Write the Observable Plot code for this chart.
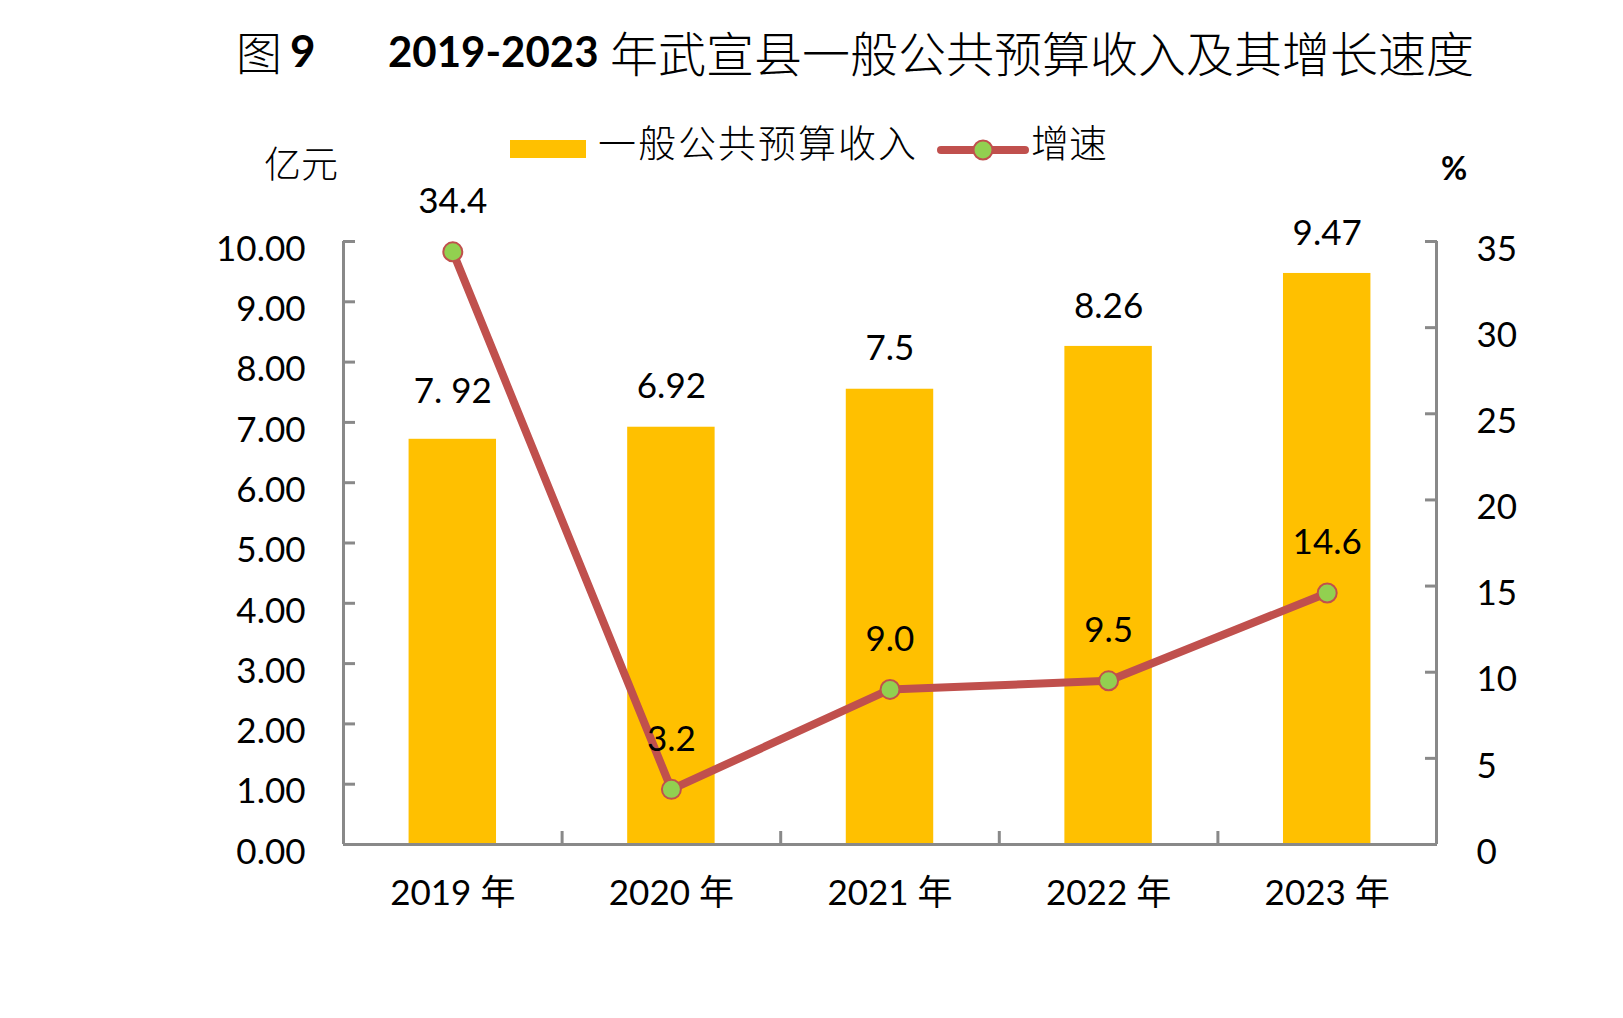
<!DOCTYPE html>
<html><head><meta charset="utf-8">
<script src="https://cdn.jsdelivr.net/npm/d3@7"></script>
<script src="https://cdn.jsdelivr.net/npm/@observablehq/plot@0.6"></script>
<style>
html,body{margin:0;padding:0;background:#fff;}
#wrap{position:relative;width:1623px;height:1018px;overflow:hidden;font-family:Lato,"Noto Sans CJK SC",sans-serif;color:#000;}
.abs{position:absolute;white-space:nowrap;line-height:1;}
.cjk{font-family:"Noto Sans CJK SC",sans-serif;font-weight:300;}
#chart{position:absolute;left:0;top:0;}
</style></head><body><div id="wrap">
<div class="abs cjk" style="left:236px;top:27px;font-size:46px;">图</div>
<div class="abs" style="left:290px;top:28px;font-size:44px;font-weight:700;">9</div>
<div class="abs" style="left:388px;top:30px;font-size:42px;font-weight:700;">2019-2023</div>
<div class="abs cjk" style="left:610px;top:27px;font-size:48px;">年武宣县一般公共预算收入及其增长速度</div>
<div class="abs" style="left:510px;top:140px;width:76px;height:18px;background:#FFC000;"></div>
<div class="abs cjk" style="left:598px;top:122px;font-size:38px;letter-spacing:2px;">一般公共预算收入</div>
<svg class="abs" style="left:937px;top:136px;" width="92" height="28"><line x1="4" y1="14" x2="88" y2="14" stroke="#C0504D" stroke-width="8" stroke-linecap="round"/><circle cx="46" cy="14" r="9.5" fill="#92D050" stroke="#C0504D" stroke-width="2"/></svg>
<div class="abs cjk" style="left:1031px;top:122px;font-size:38px;">增速</div>
<div class="abs cjk" style="left:264px;top:144px;font-size:37px;">亿元</div>
<div class="abs" style="left:1441px;top:152px;font-size:32px;font-weight:700;">%</div>
<div id="chart"></div>
</div>
<script>
const years = ["2019 年", "2020 年", "2021 年", "2022 年", "2023 年"];
const revenue = [6.72, 6.92, 7.55, 8.26, 9.47];
const revenueLabels = ["7. 92", "6.92", "7.5", "8.26", "9.47"];
const growth = [34.4, 3.2, 9.0, 9.5, 14.6];
const growthLabels = ["34.4", "3.2", "9.0", "9.5", "14.6"];
const leftTicks = [0, 1, 2, 3, 4, 5, 6, 7, 8, 9, 10];
const rightTicks = [0, 5, 10, 15, 20, 25, 30, 35];

const leftMax = 10, rightMax = 35, k = leftMax / rightMax;
const rows = years.map((year, i) => ({
  year, i,
  x1: i + 0.3, x2: i + 0.7, xc: i + 0.5,
  revenue: revenue[i], revenueLabel: revenueLabels[i],
  growth: growth[i], growthScaled: growth[i] * k, growthLabel: growthLabels[i]
}));
const axisColor = "#898989";

const chart = Plot.plot({
  width: 1623, height: 1018,
  marginLeft: 343, marginRight: 187, marginTop: 241, marginBottom: 174,
  style: {fontFamily: "Lato, 'Noto Sans CJK SC', sans-serif", fontSize: "35px", color: "#000", background: "transparent"},
  x: {domain: [0, years.length], axis: null},
  y: {domain: [0, leftMax], axis: null},
  marks: [
    Plot.rectY(rows, {x1: "x1", x2: "x2", y1: 0, y2: "revenue", fill: "#FFC000"}),
    // left axis
    Plot.axisY({anchor: "left", ticks: leftTicks, tickSize: -12, tickFormat: () => "", stroke: axisColor, strokeWidth: 3, label: null}),
    Plot.axisY({anchor: "left", ticks: leftTicks, tickSize: 0, tickPadding: 38, dy: 8, tickFormat: d => d.toFixed(2), fill: "#000", fontSize: 35, label: null}),
    // right axis
    Plot.axisY({anchor: "right", ticks: rightTicks.map(v => v * k), tickSize: -12, tickFormat: () => "", stroke: axisColor, strokeWidth: 3, label: null}),
    Plot.axisY({anchor: "right", ticks: rightTicks.map(v => v * k), tickSize: 0, tickPadding: 40, dy: 8, tickFormat: v => String(Math.round(v / k)), fill: "#000", fontSize: 35, label: null}),
    // x axis boundary ticks and labels
    Plot.axisX({anchor: "bottom", ticks: d3.range(1, years.length), tickSize: -13, tickFormat: () => "", stroke: axisColor, strokeWidth: 3, label: null}),
    Plot.axisX({anchor: "bottom", ticks: rows.map(d => d.xc), tickSize: 0, tickPadding: 36, tickFormat: v => years[Math.floor(v)], fill: "#000", fontSize: 35, label: null}),
    Plot.ruleX([0, years.length], {y1: 0, y2: leftMax, stroke: axisColor, strokeWidth: 3}),
    Plot.ruleY([0], {stroke: axisColor, strokeWidth: 3}),
    // bar labels (first label sits a little higher in the original)
    Plot.text(rows.slice(0, 1), {x: "xc", y: "revenue", text: "revenueLabel", dy: -47, fontSize: 35, fill: "#000"}),
    Plot.text(rows.slice(1), {x: "xc", y: "revenue", text: "revenueLabel", dy: -40, fontSize: 35, fill: "#000"}),
    // growth line
    Plot.line(rows, {x: "xc", y: "growthScaled", stroke: "#C0504D", strokeWidth: 8, strokeLinejoin: "round"}),
    Plot.dot(rows, {x: "xc", y: "growthScaled", r: 9.5, fill: "#92D050", stroke: "#C0504D", strokeWidth: 2}),
    Plot.text(rows, {x: "xc", y: "growthScaled", text: "growthLabel", dy: -50, fontSize: 35, fill: "#000"})
  ]
});
document.getElementById("chart").appendChild(chart);
</script>
</body></html>
